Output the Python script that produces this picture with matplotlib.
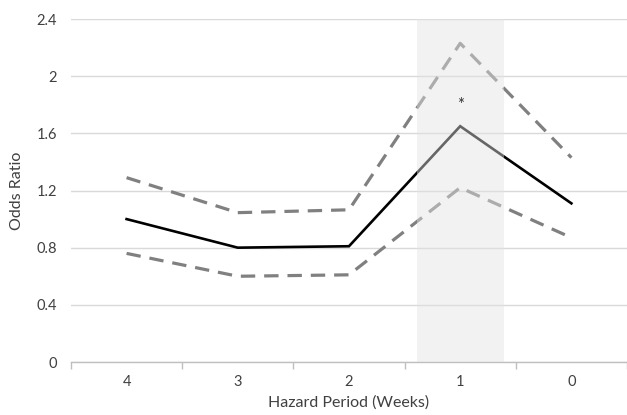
import numpy as np
import matplotlib
matplotlib.use('Agg')
import matplotlib.pyplot as plt

matplotlib.rcParams.update({
    'font.family': ['Lato', 'DejaVu Sans'],
    'font.size': 10,
})

PERIODS = ['4', '3', '2', '1', '0']
ODDS = [1.0, 0.80, 0.81, 1.65, 1.11]
UPPER = [1.29, 1.045, 1.065, 2.23, 1.43]
LOWER = [0.76, 0.60, 0.61, 1.22, 0.87]
HIGHLIGHT = '1'
STAR_Y = 1.80
YTICKS = [0, 0.4, 0.8, 1.2, 1.6, 2, 2.4]
YTICK_LABELS = ['0', '0.4', '0.8', '1.2', '1.6', '2', '2.4']

x = np.arange(len(PERIODS))

fig = plt.figure(figsize=(6.27, 4.15), dpi=100)
ax = fig.add_axes([0.1132, 0.1277, 0.8868, 0.8265])

ax.plot(x, UPPER, color='#808080', lw=2.3, ls=(0, (4.5, 2.8)), zorder=3)
ax.plot(x, LOWER, color='#808080', lw=2.3, ls=(0, (4.5, 2.8)), zorder=3)
ax.plot(x, ODDS, color='black', lw=1.9, zorder=4, solid_joinstyle='miter')

# translucent band drawn over the lines (lightens them inside)
hi = PERIODS.index(HIGHLIGHT)
ax.axvspan(hi - 0.39, hi + 0.39, ymin=0, ymax=1, color='#e3e3e3', alpha=0.45,
           lw=0, zorder=5)
ax.text(hi, STAR_Y, '*', ha='center', va='center', fontsize=12, color='#333333',
        zorder=6)

ax.set_xlim(-0.5, len(PERIODS) - 0.5)
ax.set_ylim(0, 2.4)
ax.set_xticks(x)
ax.set_xticklabels(PERIODS)
ax.set_xticks(np.arange(-0.5, len(PERIODS)), minor=True)
ax.tick_params(axis='x', which='major', length=0, pad=9, colors='#404040',
               labelsize=10.5)
ax.tick_params(axis='x', which='minor', length=5, color='#bfbfbf', width=1)
ax.set_yticks(YTICKS)
ax.set_yticklabels(YTICK_LABELS)
ax.tick_params(axis='y', length=0, pad=10, colors='#404040', labelsize=10.5)

ax.grid(axis='y', color='#d9d9d9', lw=1, zorder=0)
ax.set_axisbelow(True)
for s in ['top', 'right', 'left']:
    ax.spines[s].set_visible(False)
ax.spines['bottom'].set_color('#bfbfbf')
ax.spines['bottom'].set_linewidth(1)

ax.set_xlabel('Hazard Period (Weeks)', fontsize=11.5, color='#404040', labelpad=5)
ax.set_ylabel('Odds Ratio', fontsize=11.5, color='#404040', labelpad=9)

fig.savefig('out.png', dpi=100)
